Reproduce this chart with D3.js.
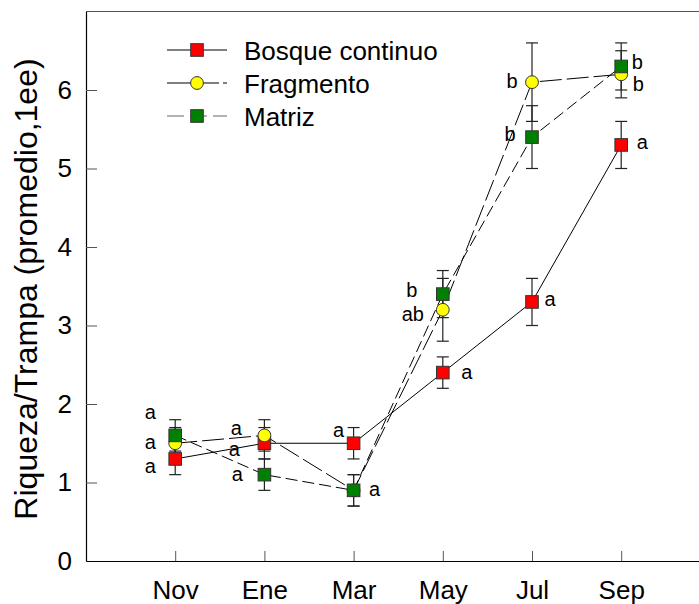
<!DOCTYPE html>
<html>
<head>
<meta charset="utf-8">
<script src="https://cdn.jsdelivr.net/npm/d3@7"></script>
<style>
  body { margin: 0; background: #fff; }
  text { font-family: "Liberation Sans", Arial, sans-serif; fill: #000; }
</style>
</head>
<body>
<div id="chart"></div>
<script>
// months on the x axis
var months = ["Nov", "Ene", "Mar", "May", "Jul", "Sep"];
var yTicks = [0, 1, 2, 3, 4, 5, 6];

// means and errors (1 ee) per habitat
var bosqueVals = [1.3, 1.5, 1.5, 2.4, 3.3, 5.3];
var bosqueErr  = [0.2, 0.2, 0.2, 0.2, 0.3, 0.3];
var fragVals   = [1.5, 1.6, 0.9, 3.2, 6.1, 6.2];
var fragErr    = [0.2, 0.2, 0.2, 0.4, 0.5, 0.3];
var matrizVals = [1.6, 1.1, 0.9, 3.4, 5.4, 6.3];
var matrizErr  = [0.2, 0.2, 0.2, 0.3, 0.4, 0.3];

// significance letters
var bosqueLetters = ["a", "a", "a", "a", "a", "a"];
var fragLetters   = ["a", "a", "", "ab", "b", "b"];
var matrizLetters = ["a", "a", "a", "b", "b", "b"];

var width = 699, height = 604;
var plotLeft = 86, plotBottom = 561, plotTop = 11.5;

// where each letter sits relative to its point (px)
var bosqueOff = [[-25, 8], [-30, 7], [-15, -12], [24, 0], [18, -2], [21, -2]];
var fragOff   = [[-25, 0], [-28, -6], [0, 0], [-30, 5], [-20, 0], [17, 11]];
var matrizOff = [[-25, -22], [-27, 0], [21, 0], [-31, -3], [-22, -2], [16, -3]];

var series = [
    {name: "Bosque continuo", vals: bosqueVals, err: bosqueErr, letters: bosqueLetters,
     off: bosqueOff, fill: "#ff0000", shape: "square", dash: null},
    {name: "Fragmento", vals: fragVals, err: fragErr, letters: fragLetters,
     off: fragOff, fill: "#ffff00", shape: "circle", dash: "22,5"},
    {name: "Matriz", vals: matrizVals, err: matrizErr, letters: matrizLetters,
     off: matrizOff, fill: "#008000", shape: "square", dash: "12,5"}
];

var x = d3.scaleLinear().domain([-1, 6]).range([plotLeft, plotLeft + 7 * 89.2]);
var y = d3.scaleLinear().domain([0, 7]).range([plotBottom, plotTop]);

var svg = d3.select("#chart").append("svg")
    .attr("width", width)
    .attr("height", height);

// axes, ticks pointing inward
var xAxis = d3.axisBottom(x)
    .tickValues(d3.range(months.length))
    .tickFormat(function (i) { return months[i]; })
    .tickSizeInner(-10)
    .tickSizeOuter(0)
    .tickPadding(20);
var yAxis = d3.axisLeft(y)
    .tickValues(yTicks)
    .tickFormat(d3.format("d"))
    .tickSizeInner(-11)
    .tickSizeOuter(0)
    .tickPadding(14);

var gx = svg.append("g")
    .attr("transform", "translate(0," + plotBottom + ")")
    .call(xAxis);
var gy = svg.append("g")
    .attr("transform", "translate(" + plotLeft + ",0)")
    .call(yAxis);

[gx, gy].forEach(function (g) {
    g.select(".domain").attr("stroke", "#000").attr("stroke-width", 1.2);
    g.selectAll(".tick line").attr("stroke", "#555").attr("stroke-width", 1);
    g.selectAll(".tick text")
        .style("font-family", '"Liberation Sans", Arial, sans-serif')
        .style("font-size", "26px")
        .attr("fill", "#000");
});
gy.selectAll(".tick").filter(function (d) { return d === 0; }).select("line").remove();
gx.selectAll(".tick text").attr("dy", "0.71em");

// top frame line
svg.append("line")
    .attr("x1", plotLeft).attr("x2", width)
    .attr("y1", y(7)).attr("y2", y(7))
    .attr("stroke", "#555").attr("stroke-width", 1.2);

// y title
svg.append("text")
    .attr("transform", "translate(37," + 289 + ") rotate(-90)")
    .attr("text-anchor", "middle")
    .style("font-size", "32px")
    .text("Riqueza/Trampa (promedio,1ee)");

var line = d3.line()
    .x(function (d, i) { return x(i); })
    .y(function (d) { return y(d); });

// connecting lines
series.forEach(function (s) {
    svg.append("path")
        .datum(s.vals)
        .attr("d", line)
        .attr("fill", "none")
        .attr("stroke", "#000")
        .attr("stroke-width", 1)
        .attr("stroke-dasharray", s.dash);
});

// error bars
series.forEach(function (s) {
    var g = svg.append("g").attr("stroke", "#222").attr("stroke-width", 1.2);
    s.vals.forEach(function (v, i) {
        var cx = x(i), y0 = y(v - s.err[i]), y1 = y(v + s.err[i]);
        g.append("line").attr("x1", cx).attr("x2", cx).attr("y1", y0).attr("y2", y1);
        g.append("line").attr("x1", cx - 6).attr("x2", cx + 6).attr("y1", y0).attr("y2", y0);
        g.append("line").attr("x1", cx - 6).attr("x2", cx + 6).attr("y1", y1).attr("y2", y1);
    });
});

function marker(g, shape, fill, cx, cy) {
    if (shape === "circle") {
        g.append("circle")
            .attr("cx", cx).attr("cy", cy).attr("r", 6.4)
            .attr("fill", fill).attr("stroke", "#333").attr("stroke-width", 1);
    } else {
        g.append("rect")
            .attr("x", cx - 6.3).attr("y", cy - 6.3)
            .attr("width", 12.6).attr("height", 12.6)
            .attr("fill", fill).attr("stroke", "#333").attr("stroke-width", 1);
    }
}

// markers
series.forEach(function (s) {
    var g = svg.append("g");
    s.vals.forEach(function (v, i) {
        marker(g, s.shape, s.fill, x(i), y(v));
    });
});

// letters
series.forEach(function (s) {
    var items = s.vals.map(function (v, i) {
        return {i: i, v: v, txt: s.letters[i], off: s.off[i]};
    }).filter(function (d) { return d.txt !== ""; });
    svg.append("g").selectAll("text")
        .data(items)
        .enter().append("text")
        .attr("x", function (d) { return x(d.i) + d.off[0]; })
        .attr("y", function (d) { return y(d.v) + d.off[1] + 6; })
        .attr("text-anchor", "middle")
        .style("font-size", "20px")
        .text(function (d) { return d.txt; });
});

// legend
var legend = svg.append("g");
series.forEach(function (s, k) {
    var ly = 50 + k * 33;
    legend.append("line")
        .attr("x1", 167).attr("x2", 227)
        .attr("y1", ly).attr("y2", ly)
        .attr("stroke", k === 2 ? "#666" : "#000")
        .attr("stroke-width", 1)
        .attr("stroke-dasharray", s.dash ? (k === 2 ? "17,6" : "24,4") : null);
    marker(legend, s.shape, s.fill, 197, ly);
    legend.append("text")
        .attr("x", 244)
        .attr("y", ly + 9.5)
        .style("font-size", "26px")
        .text(s.name);
});
</script>
</body>
</html>
